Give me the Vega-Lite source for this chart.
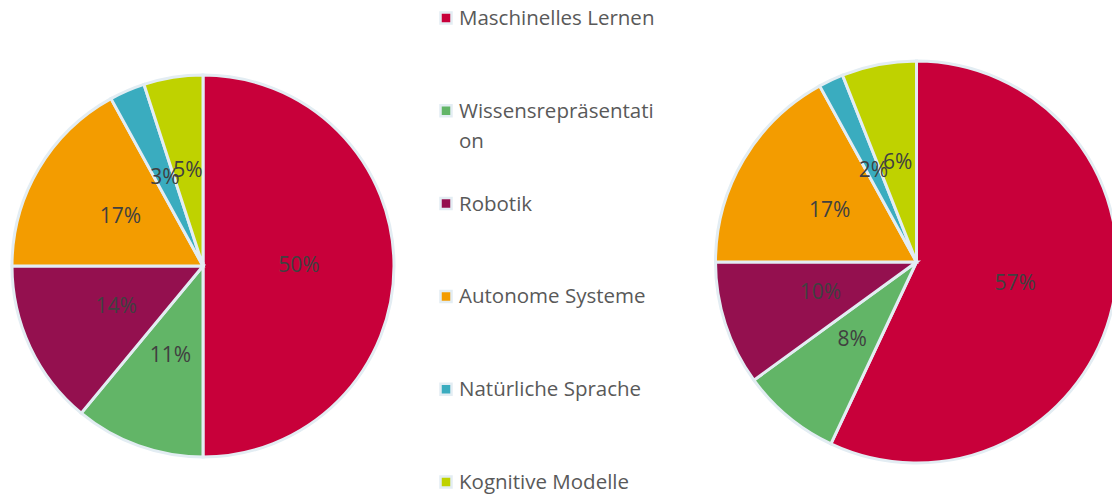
{
  "$schema": "https://vega.github.io/schema/vega-lite/v6.json",
  "padding": 0,
  "spacing": 0,
  "background": "white",
  "config": {"view": {"stroke": null}, "font": "Open Sans"},
  "datasets": {
    "shares": [
      {"chart": "links", "idx": 1, "topic": "Maschinelles Lernen", "legend": "Maschinelles Lernen", "share": 0.50},
      {"chart": "links", "idx": 2, "topic": "Wissensrepräsentation", "legend": "Wissensrepräsentati\non", "share": 0.11},
      {"chart": "links", "idx": 3, "topic": "Robotik", "legend": "Robotik", "share": 0.14},
      {"chart": "links", "idx": 4, "topic": "Autonome Systeme", "legend": "Autonome Systeme", "share": 0.17},
      {"chart": "links", "idx": 5, "topic": "Natürliche Sprache", "legend": "Natürliche Sprache", "share": 0.03},
      {"chart": "links", "idx": 6, "topic": "Kognitive Modelle", "legend": "Kognitive Modelle", "share": 0.05},
      {"chart": "rechts", "idx": 1, "topic": "Maschinelles Lernen", "legend": "Maschinelles Lernen", "share": 0.57},
      {"chart": "rechts", "idx": 2, "topic": "Wissensrepräsentation", "legend": "Wissensrepräsentati\non", "share": 0.08},
      {"chart": "rechts", "idx": 3, "topic": "Robotik", "legend": "Robotik", "share": 0.10},
      {"chart": "rechts", "idx": 4, "topic": "Autonome Systeme", "legend": "Autonome Systeme", "share": 0.17},
      {"chart": "rechts", "idx": 5, "topic": "Natürliche Sprache", "legend": "Natürliche Sprache", "share": 0.02},
      {"chart": "rechts", "idx": 6, "topic": "Kognitive Modelle", "legend": "Kognitive Modelle", "share": 0.06}
    ]
  },
  "hconcat": [
    {
      "width": 406,
      "height": 497,
      "data": {"name": "shares"},
      "transform": [{"filter": "datum.chart == 'links'"}],
      "encoding": {
        "theta": {"field": "share", "type": "quantitative", "stack": true},
        "order": {"field": "idx", "type": "quantitative"},
        "color": {
          "field": "topic", "type": "nominal", "legend": null,
          "scale": {
            "domain": ["Maschinelles Lernen", "Wissensrepräsentation", "Robotik", "Autonome Systeme", "Natürliche Sprache", "Kognitive Modelle"],
            "range": ["#C8003A", "#62B567", "#94104F", "#F39C00", "#3AACBF", "#BFD200"]
          }
        }
      },
      "layer": [
        {"mark": {"type": "arc", "outerRadius": 191, "stroke": "#e3edf3", "strokeWidth": 3, "yOffset": 17.5}},
        {
          "mark": {"type": "text", "radius": 96, "fontSize": 21, "yOffset": 17.5, "baseline": "middle", "align": "center"},
          "encoding": {
            "text": {"field": "share", "type": "quantitative", "format": ".0%"},
            "color": {"value": "#404040"}
          }
        }
      ]
    },
    {
      "width": 260,
      "height": 497,
      "data": {"name": "shares"},
      "transform": [{"filter": "datum.chart == 'links'"}],
      "encoding": {
        "y": {
          "field": "topic", "type": "nominal", "axis": null,
          "sort": ["Maschinelles Lernen", "Wissensrepräsentation", "Robotik", "Autonome Systeme", "Natürliche Sprache", "Kognitive Modelle"],
          "scale": {"type": "point", "padding": 0, "range": [18, 482]}
        }
      },
      "layer": [
        {
          "mark": {"type": "point", "shape": "square", "size": 121, "filled": true, "stroke": "#e3edf3", "strokeWidth": 2.5, "opacity": 1, "xOffset": -90},
          "encoding": {
            "fill": {
              "field": "topic", "type": "nominal", "legend": null,
              "scale": {
                "domain": ["Maschinelles Lernen", "Wissensrepräsentation", "Robotik", "Autonome Systeme", "Natürliche Sprache", "Kognitive Modelle"],
                "range": ["#C8003A", "#62B567", "#94104F", "#F39C00", "#3AACBF", "#BFD200"]
              }
            }
          }
        },
        {
          "mark": {"type": "text", "align": "left", "baseline": "alphabetic", "dx": -77, "dy": 7, "fontSize": 20.5, "lineBreak": "\n", "lineHeight": 30, "color": "#595959"},
          "encoding": {"text": {"field": "legend", "type": "nominal"}}
        }
      ]
    },
    {
      "width": 446,
      "height": 497,
      "data": {"name": "shares"},
      "transform": [{"filter": "datum.chart == 'rechts'"}],
      "encoding": {
        "theta": {"field": "share", "type": "quantitative", "stack": true},
        "order": {"field": "idx", "type": "quantitative"},
        "color": {
          "field": "topic", "type": "nominal", "legend": null,
          "scale": {
            "domain": ["Maschinelles Lernen", "Wissensrepräsentation", "Robotik", "Autonome Systeme", "Natürliche Sprache", "Kognitive Modelle"],
            "range": ["#C8003A", "#62B567", "#94104F", "#F39C00", "#3AACBF", "#BFD200"]
          }
        }
      },
      "layer": [
        {"mark": {"type": "arc", "outerRadius": 201, "stroke": "#e3edf3", "strokeWidth": 3, "xOffset": 27.5, "yOffset": 13.5}},
        {
          "mark": {"type": "text", "radius": 101, "fontSize": 21, "xOffset": 27.5, "yOffset": 13.5, "baseline": "middle", "align": "center"},
          "encoding": {
            "text": {"field": "share", "type": "quantitative", "format": ".0%"},
            "color": {"value": "#404040"}
          }
        }
      ]
    }
  ],
  "resolve": {"scale": {"color": "independent", "fill": "independent", "theta": "independent", "y": "independent"}}
}
